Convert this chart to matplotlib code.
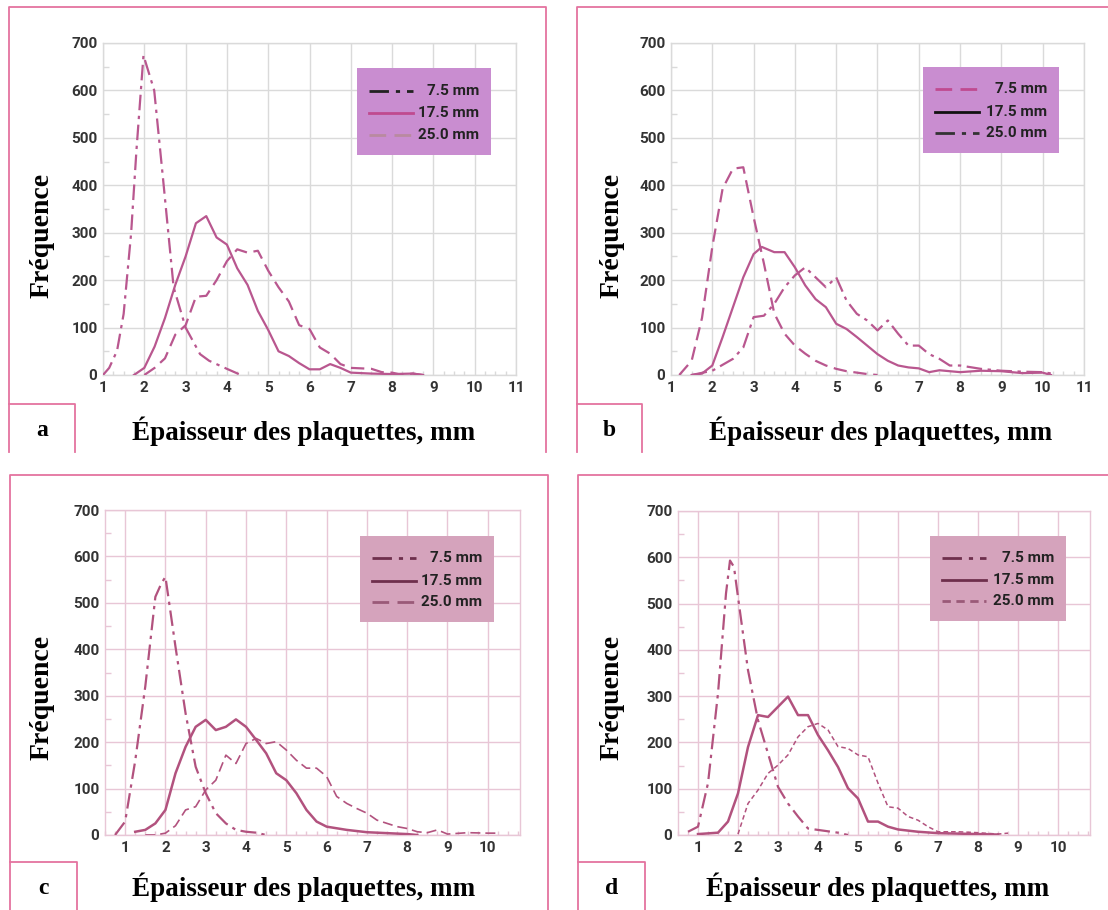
"""Plaquette thickness distributions, 4 panels"""
import matplotlib
matplotlib.use('Agg')
import matplotlib.pyplot as plt
import matplotlib.patches as mp
from matplotlib.lines import Line2D
from matplotlib.ticker import MultipleLocator

W, H = 1108, 910
DPI = 100

CURVE = '#b9578f'
CURVE_CD = '#b2527e'
GRID_AB = '#dadada'
GRID_CD = '#e8c6d6'
LEG_AB = '#c98dd0'
LEG_CD = '#d5a3bc'
FRAME = '#e4739f'
TICK_T = '#333333'
SANS = ['Roboto', 'DejaVu Sans']
SERIF = 'Liberation Serif'

SERIES = ['7.5 mm', '17.5 mm', '25.0 mm']

# ---- panel a ----
A_X75 = [1.0, 1.15, 1.34, 1.5, 1.68, 1.81, 1.98, 2.24, 2.45, 2.71, 3.0, 3.35, 3.57, 4.0, 4.34]
A_Y75 = [0, 15, 51, 129, 298, 474, 674, 600, 417, 185, 100, 44, 30, 13, 0]
A_X175 = [1.75, 2.0, 2.25, 2.5, 2.75, 3.0, 3.25, 3.5, 3.75, 4.0, 4.25, 4.5, 4.75, 5.0,
          5.25, 5.5, 5.75, 6.0, 6.25, 6.5, 6.75, 7.0, 7.5, 8.0, 8.5, 8.75]
A_Y175 = [0, 15, 60, 120, 190, 250, 320, 335, 290, 275, 225, 190, 135, 95,
          50, 40, 25, 12, 12, 23, 15, 5, 3, 2, 3, 0]
A_X25 = [2.0, 2.25, 2.5, 2.75, 3.0, 3.25, 3.5, 3.75, 4.0, 4.25, 4.5, 4.75, 5.0, 5.25,
         5.5, 5.75, 6.0, 6.25, 6.5, 6.75, 7.0, 7.5, 7.75, 8.0, 8.25, 8.5, 8.75]
A_Y25 = [0, 15, 35, 85, 105, 165, 167, 200, 240, 265, 258, 262, 220, 185,
         155, 105, 97, 58, 45, 23, 15, 13, 6, 5, 0, 3, 0]

# ---- panel b ----
B_X75 = [1.2, 1.5, 1.75, 2.0, 2.25, 2.5, 2.75, 3.0, 3.25, 3.5, 3.75, 4.0, 4.25, 4.5,
         4.75, 5.0, 5.25, 5.5, 5.75, 6.0]
B_Y75 = [0, 30, 120, 270, 393, 435, 438, 333, 235, 130, 87, 62, 45, 30,
         20, 13, 8, 5, 2, 0]
B_X175 = [1.5, 1.75, 2.0, 2.25, 2.5, 2.75, 3.0, 3.2, 3.5, 3.75, 4.0, 4.25, 4.5, 4.75,
          5.0, 5.25, 5.5, 5.75, 6.0, 6.25, 6.5, 6.75, 7.0, 7.25, 7.5, 8.0, 8.5, 9.0,
          9.5, 10.0, 10.2]
B_Y175 = [0, 3, 20, 80, 143, 206, 255, 270, 259, 259, 227, 189, 160, 143,
          108, 97, 80, 62, 44, 30, 20, 16, 14, 6, 10, 6, 9, 8,
          4, 5, 0]
B_X25 = [1.5, 2.0, 2.5, 2.75, 3.0, 3.25, 3.5, 3.75, 4.0, 4.25, 4.5, 4.75, 5.0, 5.25,
         5.5, 5.75, 6.0, 6.25, 6.5, 6.75, 7.0, 7.25, 7.5, 7.75, 8.0, 8.5, 9.0, 9.5,
         10.0, 10.3]
B_Y25 = [0, 9, 34, 58, 122, 125, 150, 185, 210, 227, 206, 185, 206, 157,
         129, 115, 94, 115, 87, 62, 62, 44, 34, 20, 20, 13, 9, 7,
         6, 2]

# ---- panel c ----
C_X75 = [0.75, 1.0, 1.25, 1.5, 1.75, 1.9, 2.0, 2.25, 2.5, 2.75, 3.0, 3.25, 3.5, 3.75,
         4.0, 4.25, 4.5]
C_Y75 = [0, 29, 160, 320, 513, 542, 556, 405, 262, 147, 90, 47, 25, 11,
         7, 5, 0]
C_X175 = [1.25, 1.5, 1.75, 2.0, 2.25, 2.5, 2.75, 3.0, 3.25, 3.5, 3.75, 4.0, 4.25, 4.5,
          4.75, 5.0, 5.25, 5.5, 5.75, 6.0, 6.5, 7.0, 7.5, 8.0, 8.25]
C_Y175 = [7, 11, 25, 54, 133, 190, 233, 248, 226, 233, 249, 233, 205, 176,
          133, 118, 90, 54, 29, 18, 11, 6, 4, 2, 0]
C_X25 = [1.5, 1.75, 2.0, 2.25, 2.5, 2.75, 3.0, 3.25, 3.5, 3.75, 4.0, 4.25, 4.5, 4.75,
         5.0, 5.25, 5.5, 5.75, 6.0, 6.25, 6.5, 6.75, 7.0, 7.25, 7.5, 7.75, 8.0, 8.25,
         8.5, 8.75, 9.0, 9.5, 10.0, 10.25]
C_Y25 = [0, 0, 4, 20, 54, 61, 97, 118, 172, 154, 197, 208, 197, 201,
         183, 161, 144, 144, 126, 83, 68, 57, 47, 32, 25, 18, 14, 7,
         5, 11, 2, 5, 4, 4]

# ---- panel d ----
D_X75 = [0.75, 1.0, 1.25, 1.5, 1.7, 1.8, 1.9, 2.0, 2.25, 2.5, 2.75, 3.0, 3.25, 3.5,
         3.75, 4.0, 4.5, 4.75]
D_Y75 = [7, 18, 112, 306, 522, 593, 579, 514, 356, 248, 176, 104, 68, 40,
         14, 11, 5, 0]
D_X175 = [1.0, 1.5, 1.75, 2.0, 2.25, 2.5, 2.75, 3.0, 3.25, 3.5, 3.75, 4.0, 4.25, 4.5,
          4.75, 5.0, 5.25, 5.5, 5.75, 6.0, 6.5, 7.0, 7.5, 8.0, 8.5]
D_Y175 = [2, 5, 29, 90, 190, 259, 255, 277, 299, 259, 259, 216, 183, 147,
          101, 79, 29, 29, 18, 12, 7, 4, 3, 2, 1]
D_X25 = [2.0, 2.25, 2.5, 2.75, 3.0, 3.25, 3.5, 3.75, 4.0, 4.25, 4.5, 4.75, 5.0, 5.25,
         5.5, 5.75, 6.0, 6.25, 6.5, 6.75, 7.0, 7.5, 8.0, 8.5, 8.75]
D_Y25 = [2, 68, 97, 133, 151, 173, 212, 234, 241, 227, 191, 187, 173, 169,
         112, 61, 58, 40, 32, 18, 7, 7, 5, 2, 4]

DASHDOT = (0, (7, 2.5, 1.5, 2.5))
DASHED = (0, (6, 3))
FINEDASH = (0, (3, 2))

fig = plt.figure(figsize=(W / DPI, H / DPI), dpi=DPI)
fig.patch.set_facecolor('white')

def fx(px): return px / W
def fy(py): return 1 - py / H

def frame(x0, y0, x1, y1):
    # three-sided pink panel frame (bottom is cut by the image)
    fig.add_artist(Line2D([fx(x0), fx(x0), fx(x1), fx(x1)],
                          [fy(y1), fy(y0), fy(y0), fy(y1)],
                          color=FRAME, lw=1.3))

def letter_box(x0, y0, x1, y1, s):
    fig.add_artist(Line2D([fx(x0), fx(x1), fx(x1)], [fy(y0), fy(y0), fy(y1)],
                          color=FRAME, lw=1.3))
    fig.text(fx((x0 + x1) / 2), fy((y0 + y1) / 2 + 2), s, ha='center', va='center',
             fontsize=17, fontweight='bold', family=SERIF)

def panel(rect_px, xlim, xticks, grid, series, styles, widths, color,
          leg_px, leg_bg, leg_colors, lab_px, ylab_px):
    x0, y0, x1, y1 = rect_px
    ax = fig.add_axes([fx(x0), fy(y1), fx(x1 - x0), (y1 - y0) / H])
    for (xs, ys), ls, lw in zip(series, styles, widths):
        ax.plot(xs, ys, color=color, ls=ls, lw=lw, zorder=3)
    ax.set_xlim(*xlim)
    ax.set_ylim(0, 700)
    ax.set_xticks(xticks)
    ax.set_yticks(range(0, 701, 100))
    ax.xaxis.set_minor_locator(MultipleLocator(0.25))
    ax.yaxis.set_minor_locator(MultipleLocator(50))
    ax.grid(True, which='major', color=grid, lw=1.0, zorder=0)
    ax.tick_params(which='major', length=0, pad=4, labelsize=11, labelcolor=TICK_T)
    ax.tick_params(which='minor', direction='in', length=3, color=grid, width=1.0)
    ax.tick_params(axis='y', which='minor', length=4)
    for lbl in ax.get_xticklabels() + ax.get_yticklabels():
        lbl.set_fontweight('bold')
        lbl.set_family(SANS)
    for sp in ax.spines.values():
        sp.set_color(grid)
        sp.set_linewidth(1.0)

    # legend box drawn by hand (text is right aligned in the original)
    lx0, ly0, lx1, ly1 = leg_px
    fig.add_artist(mp.Rectangle((fx(lx0), fy(ly1)), fx(lx1 - lx0), (ly1 - ly0) / H,
                                fc=leg_bg, ec='none', zorder=5))
    rows = [ly0 + (ly1 - ly0) * f for f in (0.26, 0.52, 0.77)]
    for name, ls, lc, ry in zip(SERIES, styles, leg_colors, rows):
        fig.add_artist(Line2D([fx(lx0 + 12), fx(lx0 + 56)], [fy(ry), fy(ry)],
                              color=lc, ls=ls, lw=2.0, zorder=6))
        fig.text(fx(lx1 - 12), fy(ry), name, ha='right', va='center', fontsize=11,
                 fontweight='bold', color='#222222', family=SANS, zorder=7)

    fig.text(fx(lab_px[0]), fy(lab_px[1]), 'Épaisseur des plaquettes, mm',
             ha='center', va='center', fontsize=19.5, fontweight='bold', family=SERIF)
    fig.text(fx(ylab_px[0]), fy(ylab_px[1]), 'Fréquence', ha='center', va='center',
             rotation=90, fontsize=20, fontweight='bold', family=SERIF)
    return ax

# frames and letter boxes
frame(9, 7, 546, 452)
frame(577, 7, 1112, 452)
frame(10, 475, 548, 912)
frame(578, 475, 1112, 912)
letter_box(9, 404, 75, 452, 'a')
letter_box(577, 404, 642, 452, 'b')
letter_box(10, 862, 77, 912, 'c')
letter_box(578, 862, 645, 912, 'd')

panel((103, 43, 516, 375), (1, 11), range(1, 12), GRID_AB,
      [(A_X75, A_Y75), (A_X175, A_Y175), (A_X25, A_Y25)],
      [DASHDOT, '-', DASHED], [1.6, 1.6, 1.6], CURVE,
      (357, 68, 491, 155), LEG_AB, ['#222222', '#c04a90', '#b98aa0'],
      (304, 431), (42, 235))

panel((671, 43, 1084, 375), (1, 11), range(1, 12), GRID_AB,
      [(B_X75, B_Y75), (B_X175, B_Y175), (B_X25, B_Y25)],
      [DASHED, '-', DASHDOT], [1.6, 1.6, 1.6], CURVE,
      (923, 67, 1059, 153), LEG_AB, ['#c04a90', '#111111', '#333333'],
      (881, 431), (612, 235))

panel((105, 510, 520, 835), (0.5, 10.8), range(1, 11), GRID_CD,
      [(C_X75, C_Y75), (C_X175, C_Y175), (C_X25, C_Y25)],
      [DASHDOT, '-', DASHED], [1.6, 1.8, 1.2], CURVE_CD,
      (360, 536, 494, 622), LEG_CD, ['#6e2f4c', '#6e2f4c', '#9a5a78'],
      (304, 887), (42, 697))

panel((678, 511, 1090, 835), (0.5, 10.8), range(1, 11), GRID_CD,
      [(D_X75, D_Y75), (D_X175, D_Y175), (D_X25, D_Y25)],
      [DASHDOT, '-', FINEDASH], [1.6, 1.8, 1.1], CURVE_CD,
      (930, 536, 1066, 621), LEG_CD, ['#6e2f4c', '#6e2f4c', '#9a5a78'],
      (878, 887), (612, 697))

fig.savefig('out.png', dpi=DPI, facecolor='white')
plt.close()
